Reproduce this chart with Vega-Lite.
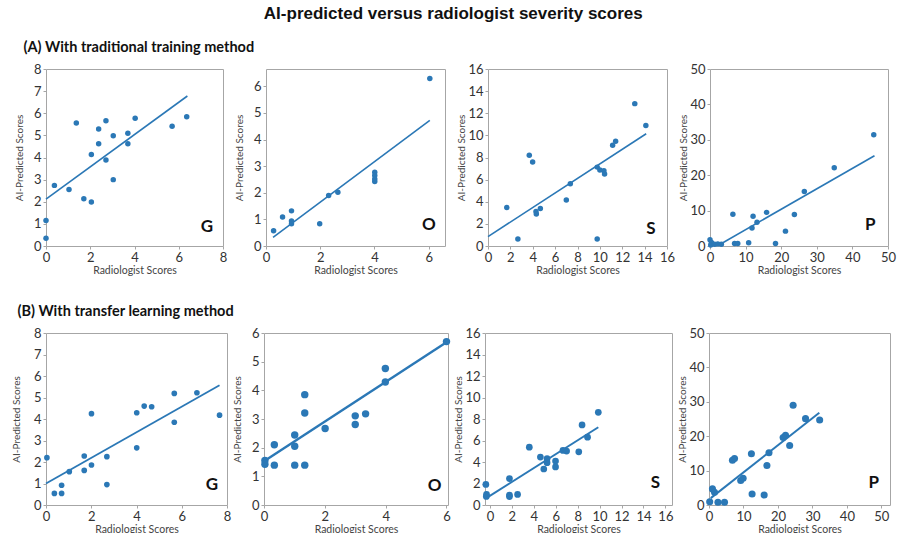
{
  "$schema": "https://vega.github.io/schema/vega-lite/v6.json",
  "background": "white",
  "padding": {"left": 10, "top": 5, "right": 0, "bottom": 0},
  "title": {"text": "AI-predicted versus radiologist severity scores", "font": "Liberation Sans", "fontSize": 17, "fontWeight": "bold", "color": "#111", "anchor": "middle", "offset": 17},
  "config": {
    "view": {"stroke": "#a6a6a6", "strokeWidth": 1},
    "font": "Lato",
    "axis": {"domain": false, "grid": false, "tickColor": "#a6a6a6", "tickSize": 3, "labelFont": "Lato", "labelFontSize": 13, "labelColor": "#333", "titleFont": "Lato", "titleFontWeight": "normal", "titleColor": "#444", "labelPadding": 2, "labelOverlap": false, "labelFlush": false},
    "axisY": {"minExtent": 19, "maxExtent": 19, "titleFontSize": 10, "titlePadding": 3},
    "axisX": {"titleFontSize": 10.5, "titlePadding": 1}
  },
  "datasets": {
    "pts": [
      {"panel": "AG", "x": 0, "y": 1.15}, {"panel": "AG", "x": 0, "y": 0.35}, {"panel": "AG", "x": 0.38, "y": 2.74}, {"panel": "AG", "x": 1.04, "y": 2.55}, {"panel": "AG", "x": 1.37, "y": 5.56}, {"panel": "AG", "x": 1.71, "y": 2.14}, {"panel": "AG", "x": 2.05, "y": 1.99}, {"panel": "AG", "x": 2.05, "y": 4.14}, {"panel": "AG", "x": 2.38, "y": 5.29}, {"panel": "AG", "x": 2.38, "y": 4.62}, {"panel": "AG", "x": 2.71, "y": 5.66}, {"panel": "AG", "x": 2.71, "y": 3.89}, {"panel": "AG", "x": 3.04, "y": 4.98}, {"panel": "AG", "x": 3.04, "y": 3.0}, {"panel": "AG", "x": 3.7, "y": 5.1}, {"panel": "AG", "x": 3.7, "y": 4.62}, {"panel": "AG", "x": 4.03, "y": 5.77}, {"panel": "AG", "x": 5.7, "y": 5.41}, {"panel": "AG", "x": 6.36, "y": 5.84},
      {"panel": "AO", "x": 0.28, "y": 0.57}, {"panel": "AO", "x": 0.61, "y": 1.09}, {"panel": "AO", "x": 0.94, "y": 1.32}, {"panel": "AO", "x": 0.94, "y": 0.94}, {"panel": "AO", "x": 0.94, "y": 0.84}, {"panel": "AO", "x": 1.98, "y": 0.84}, {"panel": "AO", "x": 2.31, "y": 1.9}, {"panel": "AO", "x": 2.65, "y": 2.02}, {"panel": "AO", "x": 4.01, "y": 2.77}, {"panel": "AO", "x": 4.01, "y": 2.65}, {"panel": "AO", "x": 4.01, "y": 2.52}, {"panel": "AO", "x": 4.01, "y": 2.42}, {"panel": "AO", "x": 6.04, "y": 6.29},
      {"panel": "AS", "x": 1.68, "y": 3.47}, {"panel": "AS", "x": 2.67, "y": 0.63}, {"panel": "AS", "x": 3.69, "y": 8.2}, {"panel": "AS", "x": 3.99, "y": 7.6}, {"panel": "AS", "x": 4.29, "y": 3.11}, {"panel": "AS", "x": 4.32, "y": 2.9}, {"panel": "AS", "x": 4.68, "y": 3.38}, {"panel": "AS", "x": 7.0, "y": 4.16}, {"panel": "AS", "x": 7.36, "y": 5.63}, {"panel": "AS", "x": 9.76, "y": 0.63}, {"panel": "AS", "x": 9.76, "y": 7.13}, {"panel": "AS", "x": 10.0, "y": 6.86}, {"panel": "AS", "x": 10.36, "y": 6.8}, {"panel": "AS", "x": 10.42, "y": 6.5}, {"panel": "AS", "x": 11.14, "y": 9.1}, {"panel": "AS", "x": 11.41, "y": 9.46}, {"panel": "AS", "x": 13.12, "y": 12.87}, {"panel": "AS", "x": 14.11, "y": 10.9},
      {"panel": "AP", "x": 0, "y": 1.8}, {"panel": "AP", "x": 0.4, "y": 1.0}, {"panel": "AP", "x": 0.2, "y": 0.3}, {"panel": "AP", "x": 1.3, "y": 0.5}, {"panel": "AP", "x": 2.2, "y": 0.6}, {"panel": "AP", "x": 3.2, "y": 0.5}, {"panel": "AP", "x": 6.43, "y": 9.0}, {"panel": "AP", "x": 6.9, "y": 0.7}, {"panel": "AP", "x": 7.8, "y": 0.7}, {"panel": "AP", "x": 10.86, "y": 0.9}, {"panel": "AP", "x": 11.8, "y": 5.1}, {"panel": "AP", "x": 12.1, "y": 8.4}, {"panel": "AP", "x": 13.2, "y": 6.7}, {"panel": "AP", "x": 15.9, "y": 9.5}, {"panel": "AP", "x": 18.4, "y": 0.7}, {"panel": "AP", "x": 21.2, "y": 4.2}, {"panel": "AP", "x": 23.7, "y": 8.9}, {"panel": "AP", "x": 26.5, "y": 15.4}, {"panel": "AP", "x": 34.9, "y": 22.1}, {"panel": "AP", "x": 46.0, "y": 31.4},
      {"panel": "BG", "x": 0.04, "y": 2.2}, {"panel": "BG", "x": 0.37, "y": 0.54}, {"panel": "BG", "x": 0.69, "y": 0.54}, {"panel": "BG", "x": 0.69, "y": 0.92}, {"panel": "BG", "x": 1.03, "y": 1.55}, {"panel": "BG", "x": 1.69, "y": 2.28}, {"panel": "BG", "x": 1.69, "y": 1.61}, {"panel": "BG", "x": 2.01, "y": 4.25}, {"panel": "BG", "x": 2.01, "y": 1.86}, {"panel": "BG", "x": 2.69, "y": 2.25}, {"panel": "BG", "x": 2.69, "y": 0.95}, {"panel": "BG", "x": 4.01, "y": 4.29}, {"panel": "BG", "x": 4.01, "y": 2.66}, {"panel": "BG", "x": 4.34, "y": 4.6}, {"panel": "BG", "x": 4.67, "y": 4.57}, {"panel": "BG", "x": 5.67, "y": 5.19}, {"panel": "BG", "x": 5.67, "y": 3.85}, {"panel": "BG", "x": 6.67, "y": 5.22}, {"panel": "BG", "x": 7.67, "y": 4.18},
      {"panel": "BO", "x": 0.03, "y": 1.55}, {"panel": "BO", "x": 0.03, "y": 1.42}, {"panel": "BO", "x": 0.34, "y": 2.1}, {"panel": "BO", "x": 0.34, "y": 1.39}, {"panel": "BO", "x": 1.01, "y": 2.44}, {"panel": "BO", "x": 1.01, "y": 2.05}, {"panel": "BO", "x": 1.01, "y": 1.39}, {"panel": "BO", "x": 1.34, "y": 3.85}, {"panel": "BO", "x": 1.34, "y": 3.21}, {"panel": "BO", "x": 1.34, "y": 1.39}, {"panel": "BO", "x": 2.01, "y": 2.67}, {"panel": "BO", "x": 3.0, "y": 3.11}, {"panel": "BO", "x": 3.0, "y": 2.81}, {"panel": "BO", "x": 3.34, "y": 3.18}, {"panel": "BO", "x": 3.99, "y": 4.76}, {"panel": "BO", "x": 3.99, "y": 4.29}, {"panel": "BO", "x": 6.0, "y": 5.7},
      {"panel": "BS", "x": -0.37, "y": 1.91}, {"panel": "BS", "x": -0.31, "y": 0.98}, {"panel": "BS", "x": -0.33, "y": 0.8}, {"panel": "BS", "x": 1.78, "y": 2.46}, {"panel": "BS", "x": 1.78, "y": 0.92}, {"panel": "BS", "x": 1.78, "y": 0.78}, {"panel": "BS", "x": 2.52, "y": 0.98}, {"panel": "BS", "x": 3.59, "y": 5.38}, {"panel": "BS", "x": 4.6, "y": 4.46}, {"panel": "BS", "x": 4.91, "y": 3.35}, {"panel": "BS", "x": 5.21, "y": 4.31}, {"panel": "BS", "x": 5.21, "y": 3.94}, {"panel": "BS", "x": 5.98, "y": 4.09}, {"panel": "BS", "x": 5.98, "y": 3.54}, {"panel": "BS", "x": 6.66, "y": 5.08}, {"panel": "BS", "x": 6.99, "y": 5.02}, {"panel": "BS", "x": 8.1, "y": 4.95}, {"panel": "BS", "x": 8.4, "y": 7.45}, {"panel": "BS", "x": 8.9, "y": 6.31}, {"panel": "BS", "x": 9.88, "y": 8.62},
      {"panel": "BP", "x": 0.2, "y": 0.97}, {"panel": "BP", "x": 1.0, "y": 4.68}, {"panel": "BP", "x": 1.6, "y": 3.7}, {"panel": "BP", "x": 2.6, "y": 0.78}, {"panel": "BP", "x": 4.5, "y": 0.78}, {"panel": "BP", "x": 6.8, "y": 13.0}, {"panel": "BP", "x": 7.4, "y": 13.5}, {"panel": "BP", "x": 9.2, "y": 7.1}, {"panel": "BP", "x": 9.9, "y": 7.8}, {"panel": "BP", "x": 12.3, "y": 14.9}, {"panel": "BP", "x": 12.5, "y": 3.2}, {"panel": "BP", "x": 16.0, "y": 2.9}, {"panel": "BP", "x": 16.8, "y": 11.5}, {"panel": "BP", "x": 17.4, "y": 15.2}, {"panel": "BP", "x": 21.5, "y": 19.6}, {"panel": "BP", "x": 22.2, "y": 20.3}, {"panel": "BP", "x": 23.4, "y": 17.3}, {"panel": "BP", "x": 24.4, "y": 29.0}, {"panel": "BP", "x": 28.0, "y": 25.1}, {"panel": "BP", "x": 32.1, "y": 24.7}
    ],
    "fits": [
      {"panel": "AG", "x": 0, "y": 2.12}, {"panel": "AG", "x": 6.39, "y": 6.78},
      {"panel": "AO", "x": 0.26, "y": 0.32}, {"panel": "AO", "x": 6.04, "y": 4.72},
      {"panel": "AS", "x": 0, "y": 0.85}, {"panel": "AS", "x": 14.14, "y": 10.15},
      {"panel": "AP", "x": 2.5, "y": 0.3}, {"panel": "AP", "x": 46.2, "y": 25.5},
      {"panel": "BG", "x": 0, "y": 1.0}, {"panel": "BG", "x": 7.67, "y": 5.57},
      {"panel": "BO", "x": 0, "y": 1.53}, {"panel": "BO", "x": 6.0, "y": 5.68},
      {"panel": "BS", "x": -0.37, "y": 0.62}, {"panel": "BS", "x": 9.88, "y": 7.23},
      {"panel": "BP", "x": 0.5, "y": 2.0}, {"panel": "BP", "x": 32.0, "y": 26.8}
    ]
  },
  "spacing": 28,
  "vconcat": [
    {
      "title": {"text": "(A) With traditional training method", "font": "Lato", "fontSize": 14.5, "fontWeight": "bold", "color": "#111", "anchor": "start", "offset": 7, "dx": 10},
      "bounds": "flush",
      "spacing": 43,
      "hconcat": [
        {"width": 177, "height": 177, "layer": [
          {"data": {"name": "pts"}, "transform": [{"filter": "datum.panel === 'AG'"}], "mark": {"type": "circle", "size": 30, "opacity": 1, "color": "#2b78b6"},
           "encoding": {"x": {"field": "x", "type": "quantitative", "scale": {"domain": [0, 8], "nice": false, "zero": false}, "axis": {"values": [0, 2, 4, 6, 8], "tickCount": 30, "format": "d", "title": "Radiologist Scores"}},
                        "y": {"field": "y", "type": "quantitative", "scale": {"domain": [0, 8], "nice": false, "zero": false}, "axis": {"values": [0, 1, 2, 3, 4, 5, 6, 7, 8], "tickCount": 30, "format": "d", "title": "AI-Predicted Scores"}}}},
          {"data": {"name": "fits"}, "transform": [{"filter": "datum.panel === 'AG'"}], "mark": {"type": "line", "color": "#2b78b6", "strokeWidth": 1.6}, "encoding": {"x": {"field": "x", "type": "quantitative"}, "y": {"field": "y", "type": "quantitative"}}},
          {"data": {"values": [{"letter": "G"}]}, "mark": {"type": "text", "font": "Lato", "fontWeight": "bold", "fontSize": 17, "color": "#111"}, "encoding": {"x": {"datum": 7.27}, "y": {"datum": 0.85}, "text": {"field": "letter"}}}
        ]},
        {"width": 179, "height": 177, "layer": [
          {"data": {"name": "pts"}, "transform": [{"filter": "datum.panel === 'AO'"}], "mark": {"type": "circle", "size": 30, "opacity": 1, "color": "#2b78b6"},
           "encoding": {"x": {"field": "x", "type": "quantitative", "scale": {"domain": [0, 6.6], "nice": false, "zero": false}, "axis": {"values": [0, 2, 4, 6], "tickCount": 30, "format": "d", "title": "Radiologist Scores"}},
                        "y": {"field": "y", "type": "quantitative", "scale": {"domain": [0, 6.65], "nice": false, "zero": false}, "axis": {"values": [0, 1, 2, 3, 4, 5, 6], "tickCount": 30, "format": "d", "title": "AI-Predicted Scores"}}}},
          {"data": {"name": "fits"}, "transform": [{"filter": "datum.panel === 'AO'"}], "mark": {"type": "line", "color": "#2b78b6", "strokeWidth": 1.6}, "encoding": {"x": {"field": "x", "type": "quantitative"}, "y": {"field": "y", "type": "quantitative"}}},
          {"data": {"values": [{"letter": "O"}]}, "mark": {"type": "text", "font": "Lato", "fontWeight": "bold", "fontSize": 17, "color": "#111"}, "encoding": {"x": {"datum": 6.01}, "y": {"datum": 0.78}, "text": {"field": "letter"}}}
        ]},
        {"width": 179, "height": 177, "layer": [
          {"data": {"name": "pts"}, "transform": [{"filter": "datum.panel === 'AS'"}], "mark": {"type": "circle", "size": 30, "opacity": 1, "color": "#2b78b6"},
           "encoding": {"x": {"field": "x", "type": "quantitative", "scale": {"domain": [0, 16], "nice": false, "zero": false}, "axis": {"values": [0, 2, 4, 6, 8, 10, 12, 14, 16], "tickCount": 30, "format": "d", "title": "Radiologist Scores"}},
                        "y": {"field": "y", "type": "quantitative", "scale": {"domain": [0, 16], "nice": false, "zero": false}, "axis": {"values": [0, 2, 4, 6, 8, 10, 12, 14, 16], "tickCount": 30, "format": "d", "title": "AI-Predicted Scores"}}}},
          {"data": {"name": "fits"}, "transform": [{"filter": "datum.panel === 'AS'"}], "mark": {"type": "line", "color": "#2b78b6", "strokeWidth": 1.6}, "encoding": {"x": {"field": "x", "type": "quantitative"}, "y": {"field": "y", "type": "quantitative"}}},
          {"data": {"values": [{"letter": "S"}]}, "mark": {"type": "text", "font": "Lato", "fontWeight": "bold", "fontSize": 17, "color": "#111"}, "encoding": {"x": {"datum": 14.56}, "y": {"datum": 1.56}, "text": {"field": "letter"}}}
        ]},
        {"width": 178, "height": 177, "layer": [
          {"data": {"name": "pts"}, "transform": [{"filter": "datum.panel === 'AP'"}], "mark": {"type": "circle", "size": 30, "opacity": 1, "color": "#2b78b6"},
           "encoding": {"x": {"field": "x", "type": "quantitative", "scale": {"domain": [0, 50], "nice": false, "zero": false}, "axis": {"values": [0, 10, 20, 30, 40, 50], "tickCount": 30, "format": "d", "title": "Radiologist Scores"}},
                        "y": {"field": "y", "type": "quantitative", "scale": {"domain": [0, 50], "nice": false, "zero": false}, "axis": {"values": [0, 10, 20, 30, 40, 50], "tickCount": 30, "format": "d", "title": "AI-Predicted Scores"}}}},
          {"data": {"name": "fits"}, "transform": [{"filter": "datum.panel === 'AP'"}], "mark": {"type": "line", "color": "#2b78b6", "strokeWidth": 1.6}, "encoding": {"x": {"field": "x", "type": "quantitative"}, "y": {"field": "y", "type": "quantitative"}}},
          {"data": {"values": [{"letter": "P"}]}, "mark": {"type": "text", "font": "Lato", "fontWeight": "bold", "fontSize": 17, "color": "#111"}, "encoding": {"x": {"datum": 45.0}, "y": {"datum": 5.85}, "text": {"field": "letter"}}}
        ]}
      ]
    },
    {
      "title": {"text": "(B) With transfer learning method", "font": "Lato", "fontSize": 14.5, "fontWeight": "bold", "color": "#111", "anchor": "start", "offset": 7, "dx": 7},
      "bounds": "flush",
      "spacing": 37,
      "hconcat": [
        {"width": 181, "height": 172, "layer": [
          {"data": {"name": "pts"}, "transform": [{"filter": "datum.panel === 'BG'"}], "mark": {"type": "circle", "size": 32, "opacity": 1, "color": "#2b78b6"},
           "encoding": {"x": {"field": "x", "type": "quantitative", "scale": {"domain": [0, 8], "nice": false, "zero": false}, "axis": {"values": [0, 2, 4, 6, 8], "tickCount": 30, "format": "d", "title": "Radiologist Scores"}},
                        "y": {"field": "y", "type": "quantitative", "scale": {"domain": [0, 8], "nice": false, "zero": false}, "axis": {"values": [0, 1, 2, 3, 4, 5, 6, 7, 8], "tickCount": 30, "format": "d", "title": "AI-Predicted Scores", "titlePadding": 6}}}},
          {"data": {"name": "fits"}, "transform": [{"filter": "datum.panel === 'BG'"}], "mark": {"type": "line", "color": "#2b78b6", "strokeWidth": 1.8}, "encoding": {"x": {"field": "x", "type": "quantitative"}, "y": {"field": "y", "type": "quantitative"}}},
          {"data": {"values": [{"letter": "G"}]}, "mark": {"type": "text", "font": "Lato", "fontWeight": "bold", "fontSize": 17, "color": "#111"}, "encoding": {"x": {"datum": 7.33}, "y": {"datum": 0.92}, "text": {"field": "letter"}}}
        ]},
        {"width": 184, "height": 172, "layer": [
          {"data": {"name": "pts"}, "transform": [{"filter": "datum.panel === 'BO'"}], "mark": {"type": "circle", "size": 55, "opacity": 1, "color": "#2b78b6"},
           "encoding": {"x": {"field": "x", "type": "quantitative", "scale": {"domain": [0, 6.05], "nice": false, "zero": false}, "axis": {"values": [0, 2, 4, 6], "tickCount": 30, "format": "d", "title": "Radiologist Scores"}},
                        "y": {"field": "y", "type": "quantitative", "scale": {"domain": [0, 6], "nice": false, "zero": false}, "axis": {"values": [0, 1, 2, 3, 4, 5, 6], "tickCount": 30, "format": "d", "title": "AI-Predicted Scores"}}}},
          {"data": {"name": "fits"}, "transform": [{"filter": "datum.panel === 'BO'"}], "mark": {"type": "line", "color": "#2b78b6", "strokeWidth": 2.4}, "encoding": {"x": {"field": "x", "type": "quantitative"}, "y": {"field": "y", "type": "quantitative"}}},
          {"data": {"values": [{"letter": "O"}]}, "mark": {"type": "text", "font": "Lato", "fontWeight": "bold", "fontSize": 17, "color": "#111"}, "encoding": {"x": {"datum": 5.61}, "y": {"datum": 0.66}, "text": {"field": "letter"}}}
        ]},
        {"width": 187, "height": 172, "layer": [
          {"data": {"name": "pts"}, "transform": [{"filter": "datum.panel === 'BS'"}], "mark": {"type": "circle", "size": 45, "opacity": 1, "color": "#2b78b6"},
           "encoding": {"x": {"field": "x", "type": "quantitative", "scale": {"domain": [-0.45, 16.6], "nice": false, "zero": false}, "axis": {"values": [0, 2, 4, 6, 8, 10, 12, 14, 16], "tickCount": 30, "format": "d", "title": "Radiologist Scores"}},
                        "y": {"field": "y", "type": "quantitative", "scale": {"domain": [0, 16], "nice": false, "zero": false}, "axis": {"values": [0, 2, 4, 6, 8, 10, 12, 14, 16], "tickCount": 30, "format": "d", "title": "AI-Predicted Scores"}}}},
          {"data": {"name": "fits"}, "transform": [{"filter": "datum.panel === 'BS'"}], "mark": {"type": "line", "color": "#2b78b6", "strokeWidth": 2}, "encoding": {"x": {"field": "x", "type": "quantitative"}, "y": {"field": "y", "type": "quantitative"}}},
          {"data": {"values": [{"letter": "S"}]}, "mark": {"type": "text", "font": "Lato", "fontWeight": "bold", "fontSize": 17, "color": "#111"}, "encoding": {"x": {"datum": 15.09}, "y": {"datum": 2.06}, "text": {"field": "letter"}}}
        ]},
        {"width": 181, "height": 172, "layer": [
          {"data": {"name": "pts"}, "transform": [{"filter": "datum.panel === 'BP'"}], "mark": {"type": "circle", "size": 50, "opacity": 1, "color": "#2b78b6"},
           "encoding": {"x": {"field": "x", "type": "quantitative", "scale": {"domain": [0, 52.5], "nice": false, "zero": false}, "axis": {"values": [0, 10, 20, 30, 40, 50], "tickCount": 30, "format": "d", "title": "Radiologist Scores"}},
                        "y": {"field": "y", "type": "quantitative", "scale": {"domain": [0, 50], "nice": false, "zero": false}, "axis": {"values": [0, 10, 20, 30, 40, 50], "tickCount": 30, "format": "d", "title": "AI-Predicted Scores"}}}},
          {"data": {"name": "fits"}, "transform": [{"filter": "datum.panel === 'BP'"}], "mark": {"type": "line", "color": "#2b78b6", "strokeWidth": 2}, "encoding": {"x": {"field": "x", "type": "quantitative"}, "y": {"field": "y", "type": "quantitative"}}},
          {"data": {"values": [{"letter": "P"}]}, "mark": {"type": "text", "font": "Lato", "fontWeight": "bold", "fontSize": 17, "color": "#111"}, "encoding": {"x": {"datum": 47.8}, "y": {"datum": 6.43}, "text": {"field": "letter"}}}
        ]}
      ]
    }
  ]
}
